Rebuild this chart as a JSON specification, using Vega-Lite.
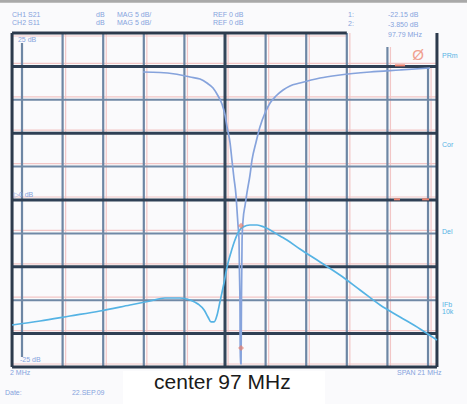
{
  "$schema": "https://vega.github.io/schema/vega-lite/v6.json",
  "width": 467,
  "height": 404,
  "autosize": {"type": "none"},
  "padding": 0,
  "background": "#fafafc",
  "config": {"view": {"stroke": null}},
  "datasets": {
    "grid": [
      {"f": 85.916, "f2": 108.92, "db": 29.75, "db2": 29.75, "k": "bar"},
      {"f": 86.51, "f2": 103.0, "db": 24.55, "db2": 24.55, "k": "pink"},
      {"f": 86.51, "f2": 107.44, "db": 20.45, "db2": 20.45, "k": "pink"},
      {"f": 86.51, "f2": 107.44, "db": 15.45, "db2": 15.45, "k": "pink"},
      {"f": 86.51, "f2": 107.44, "db": 10.45, "db2": 10.45, "k": "pink"},
      {"f": 86.51, "f2": 107.44, "db": 5.45, "db2": 5.45, "k": "pink"},
      {"f": 86.51, "f2": 107.44, "db": 0.45, "db2": 0.45, "k": "pink"},
      {"f": 86.51, "f2": 107.44, "db": -4.55, "db2": -4.55, "k": "pink"},
      {"f": 86.51, "f2": 107.44, "db": -9.55, "db2": -9.55, "k": "pink"},
      {"f": 86.51, "f2": 107.44, "db": -14.55, "db2": -14.55, "k": "pink"},
      {"f": 86.51, "f2": 107.44, "db": -19.55, "db2": -19.55, "k": "pink"},
      {"f": 86.51, "f2": 107.44, "db": -24.55, "db2": -24.55, "k": "pink"},
      {"f": 89.15, "f2": 89.15, "db": 25, "db2": -25, "k": "pink"},
      {"f": 91.15, "f2": 91.15, "db": 25, "db2": -25, "k": "pink"},
      {"f": 93.15, "f2": 93.15, "db": 25, "db2": -25, "k": "pink"},
      {"f": 95.15, "f2": 95.15, "db": 25, "db2": -25, "k": "pink"},
      {"f": 97.15, "f2": 97.15, "db": 25, "db2": -25, "k": "pink"},
      {"f": 99.15, "f2": 99.15, "db": 25, "db2": -25, "k": "pink"},
      {"f": 101.15, "f2": 101.15, "db": 25, "db2": -25, "k": "pink"},
      {"f": 103.15, "f2": 103.15, "db": 25, "db2": -25, "k": "pink"},
      {"f": 105.15, "f2": 105.15, "db": 22.9, "db2": -25, "k": "pink"},
      {"f": 107.15, "f2": 107.15, "db": 19.9, "db2": -25, "k": "pink"},
      {"f": 87, "f2": 87, "db": 23.5, "db2": -23.5, "k": "vert"},
      {"f": 89, "f2": 89, "db": 25, "db2": -25, "k": "vert"},
      {"f": 91, "f2": 91, "db": 25, "db2": -25, "k": "vert"},
      {"f": 93, "f2": 93, "db": 25, "db2": -25, "k": "vert"},
      {"f": 95, "f2": 95, "db": 25, "db2": -25, "k": "vert"},
      {"f": 99, "f2": 99, "db": 25, "db2": -25, "k": "vert"},
      {"f": 101, "f2": 101, "db": 25, "db2": -25, "k": "vert"},
      {"f": 103, "f2": 103, "db": 25, "db2": -25, "k": "vert"},
      {"f": 105, "f2": 105, "db": 22.9, "db2": -25, "k": "vert"},
      {"f": 107, "f2": 107, "db": 19.9, "db2": -25, "k": "vert"},
      {"f": 86.51, "f2": 107.44, "db": 15, "db2": 15, "k": "thin"},
      {"f": 86.51, "f2": 107.44, "db": 5, "db2": 5, "k": "thin"},
      {"f": 86.51, "f2": 107.44, "db": -5, "db2": -5, "k": "thin"},
      {"f": 86.51, "f2": 107.44, "db": -15, "db2": -15, "k": "thin"},
      {"f": 86.51, "f2": 107.44, "db": 20, "db2": 20, "k": "thick"},
      {"f": 86.51, "f2": 107.44, "db": 10, "db2": 10, "k": "thick"},
      {"f": 86.51, "f2": 107.44, "db": 0, "db2": 0, "k": "thick"},
      {"f": 86.51, "f2": 107.44, "db": -10, "db2": -10, "k": "thick"},
      {"f": 86.51, "f2": 107.44, "db": -20, "db2": -20, "k": "thick"},
      {"f": 97, "f2": 97, "db": 25, "db2": -25, "k": "center"},
      {"f": 86.51, "f2": 103.0, "db": 25, "db2": 25, "k": "frame"},
      {"f": 86.51, "f2": 107.44, "db": -25, "db2": -25, "k": "frame"},
      {"f": 86.51, "f2": 86.51, "db": 25, "db2": -25, "k": "frame"},
      {"f": 107.44, "f2": 107.44, "db": 25, "db2": -25, "k": "frame"},
      {"f": 105.37, "f2": 105.87, "db": 20.15, "db2": 20.15, "k": "red"},
      {"f": 105.32, "f2": 105.62, "db": 0.1, "db2": 0.1, "k": "red"},
      {"f": 106.71, "f2": 107.05, "db": 0.1, "db2": 0.1, "k": "red"}
    ],
    "traces": [
      {"f": 92.96, "db": 19.16, "s": "S21"},
      {"f": 93.8, "db": 19.09, "s": "S21"},
      {"f": 94.54, "db": 18.86, "s": "S21"},
      {"f": 95.28, "db": 18.41, "s": "S21"},
      {"f": 95.77, "db": 18.11, "s": "S21"},
      {"f": 96.11, "db": 17.51, "s": "S21"},
      {"f": 96.41, "db": 16.77, "s": "S21"},
      {"f": 96.66, "db": 15.57, "s": "S21"},
      {"f": 96.85, "db": 14.37, "s": "S21"},
      {"f": 97.0, "db": 12.72, "s": "S21"},
      {"f": 97.1, "db": 10.93, "s": "S21"},
      {"f": 97.25, "db": 8.53, "s": "S21"},
      {"f": 97.34, "db": 5.99, "s": "S21"},
      {"f": 97.44, "db": 3.29, "s": "S21"},
      {"f": 97.54, "db": 0.75, "s": "S21"},
      {"f": 97.59, "db": -1.5, "s": "S21"},
      {"f": 97.64, "db": -3.74, "s": "S21"},
      {"f": 97.69, "db": -5.99, "s": "S21"},
      {"f": 97.71, "db": -10.48, "s": "S21"},
      {"f": 97.74, "db": -16.47, "s": "S21"},
      {"f": 97.75, "db": -24.5, "s": "S21"},
      {"f": 97.79, "db": -24.5, "s": "S21"},
      {"f": 97.81, "db": -14.97, "s": "S21"},
      {"f": 97.84, "db": -5.99, "s": "S21"},
      {"f": 97.89, "db": -2.99, "s": "S21"},
      {"f": 97.99, "db": -0.75, "s": "S21"},
      {"f": 98.08, "db": 1.05, "s": "S21"},
      {"f": 98.23, "db": 3.74, "s": "S21"},
      {"f": 98.33, "db": 5.99, "s": "S21"},
      {"f": 98.53, "db": 8.68, "s": "S21"},
      {"f": 98.72, "db": 10.93, "s": "S21"},
      {"f": 98.97, "db": 13.02, "s": "S21"},
      {"f": 99.22, "db": 14.52, "s": "S21"},
      {"f": 99.51, "db": 15.57, "s": "S21"},
      {"f": 99.86, "db": 16.47, "s": "S21"},
      {"f": 100.2, "db": 17.07, "s": "S21"},
      {"f": 100.69, "db": 17.51, "s": "S21"},
      {"f": 101.68, "db": 18.26, "s": "S21"},
      {"f": 102.66, "db": 18.71, "s": "S21"},
      {"f": 104.14, "db": 19.16, "s": "S21"},
      {"f": 105.62, "db": 19.46, "s": "S21"},
      {"f": 107.1, "db": 19.76, "s": "S21"},
      {"f": 86.51, "db": -18.71, "s": "S11"},
      {"f": 87.89, "db": -18.11, "s": "S11"},
      {"f": 89.36, "db": -17.37, "s": "S11"},
      {"f": 90.84, "db": -16.62, "s": "S11"},
      {"f": 92.32, "db": -15.72, "s": "S11"},
      {"f": 93.31, "db": -15.12, "s": "S11"},
      {"f": 94.04, "db": -14.67, "s": "S11"},
      {"f": 94.78, "db": -14.67, "s": "S11"},
      {"f": 95.28, "db": -14.97, "s": "S11"},
      {"f": 95.67, "db": -15.57, "s": "S11"},
      {"f": 95.97, "db": -16.47, "s": "S11"},
      {"f": 96.16, "db": -17.51, "s": "S11"},
      {"f": 96.31, "db": -18.26, "s": "S11"},
      {"f": 96.46, "db": -18.26, "s": "S11"},
      {"f": 96.61, "db": -17.22, "s": "S11"},
      {"f": 96.75, "db": -15.27, "s": "S11"},
      {"f": 96.95, "db": -12.43, "s": "S11"},
      {"f": 97.1, "db": -10.03, "s": "S11"},
      {"f": 97.3, "db": -7.78, "s": "S11"},
      {"f": 97.49, "db": -5.99, "s": "S11"},
      {"f": 97.69, "db": -4.64, "s": "S11"},
      {"f": 97.89, "db": -4.04, "s": "S11"},
      {"f": 98.23, "db": -3.74, "s": "S11"},
      {"f": 98.58, "db": -3.74, "s": "S11"},
      {"f": 98.92, "db": -4.04, "s": "S11"},
      {"f": 99.22, "db": -4.49, "s": "S11"},
      {"f": 99.71, "db": -5.39, "s": "S11"},
      {"f": 100.05, "db": -5.99, "s": "S11"},
      {"f": 100.69, "db": -7.34, "s": "S11"},
      {"f": 101.68, "db": -9.28, "s": "S11"},
      {"f": 102.66, "db": -11.23, "s": "S11"},
      {"f": 103.65, "db": -13.47, "s": "S11"},
      {"f": 104.64, "db": -15.72, "s": "S11"},
      {"f": 105.62, "db": -17.51, "s": "S11"},
      {"f": 106.61, "db": -19.31, "s": "S11"},
      {"f": 107.44, "db": -20.96, "s": "S11"}
    ],
    "markers": [
      {"f": 97.79, "db": -3.85},
      {"f": 97.79, "db": -22.15}
    ],
    "box": [
      {"f": 91.98, "f2": 101.93, "db": -25.6, "db2": -30.54}
    ],
    "labels": [
      {"f": 86.51, "db": 27.69, "t": "CH1 S21", "g": "gray"},
      {"f": 86.51, "db": 26.5, "t": "CH2 S11", "g": "gray"},
      {"f": 90.65, "db": 27.69, "t": "dB", "g": "gray"},
      {"f": 90.65, "db": 26.5, "t": "dB", "g": "gray"},
      {"f": 91.68, "db": 27.69, "t": "MAG  5 dB/", "g": "gray"},
      {"f": 91.68, "db": 26.5, "t": "MAG  5 dB/", "g": "gray"},
      {"f": 96.41, "db": 27.69, "t": "REF 0 dB", "g": "gray"},
      {"f": 96.41, "db": 26.5, "t": "REF 0 dB", "g": "gray"},
      {"f": 86.8, "db": 23.95, "t": "25 dB", "g": "gray"},
      {"f": 86.6, "db": 0.75, "t": "▷0 dB", "g": "gray"},
      {"f": 86.9, "db": -23.95, "t": "-25 dB", "g": "gray"},
      {"f": 86.41, "db": -25.9, "t": "2 MHz", "g": "gray"},
      {"f": 105.47, "db": -25.9, "t": "SPAN 21 MHz", "g": "gray"},
      {"f": 86.16, "db": -28.89, "t": "Date:", "g": "gray"},
      {"f": 89.46, "db": -28.89, "t": "22.SEP.09", "g": "gray"},
      {"f": 107.69, "db": 21.56, "t": "PRm", "g": "green"},
      {"f": 107.69, "db": 8.23, "t": "Cor", "g": "green"},
      {"f": 107.69, "db": -4.79, "t": "Del", "g": "green"},
      {"f": 107.69, "db": -15.72, "t": "IFb", "g": "green"},
      {"f": 107.69, "db": -16.77, "t": "10k", "g": "green"},
      {"f": 103.06, "db": 27.69, "t": "1:", "g": "red"},
      {"f": 103.06, "db": 26.35, "t": "2:", "g": "red"},
      {"f": 105.03, "db": 27.69, "t": "-22.15 dB", "g": "red"},
      {"f": 105.03, "db": 26.2, "t": "-3.850 dB", "g": "red"},
      {"f": 105.03, "db": 24.7, "t": "97.79 MHz", "g": "red"}
    ],
    "blob": [
      {"f": 106.51, "db": 21.71, "t": "Ø"}
    ],
    "title": [
      {"f": 96.87, "db": -28.29, "t": "center 97 MHz"}
    ]
  },
  "encoding": {
    "x": {"field": "f", "type": "quantitative", "scale": {"domain": [85.916, 108.92], "nice": false, "zero": false}, "axis": null},
    "y": {"field": "db", "type": "quantitative", "scale": {"domain": [-30.54, 29.94], "nice": false, "zero": false}, "axis": null}
  },
  "layer": [
    {"data": {"name": "grid"}, "transform": [{"filter": "datum.k == 'bar'"}], "mark": {"type": "rule", "color": "#a9a9a9", "strokeWidth": 3}, "encoding": {"x2": {"field": "f2"}, "y2": {"field": "db2"}}},
    {"data": {"name": "grid"}, "transform": [{"filter": "datum.k == 'pink'"}], "mark": {"type": "rule", "color": "#f2c6c6", "strokeWidth": 1.2}, "encoding": {"x2": {"field": "f2"}, "y2": {"field": "db2"}}},
    {"data": {"name": "grid"}, "transform": [{"filter": "datum.k == 'vert'"}], "mark": {"type": "rule", "color": "#6d86a4", "strokeWidth": 2.2}, "encoding": {"x2": {"field": "f2"}, "y2": {"field": "db2"}}},
    {"data": {"name": "grid"}, "transform": [{"filter": "datum.k == 'thin'"}], "mark": {"type": "rule", "color": "#7089a6", "strokeWidth": 2}, "encoding": {"x2": {"field": "f2"}, "y2": {"field": "db2"}}},
    {"data": {"name": "grid"}, "transform": [{"filter": "datum.k == 'thick'"}], "mark": {"type": "rule", "color": "#2f4055", "strokeWidth": 3}, "encoding": {"x2": {"field": "f2"}, "y2": {"field": "db2"}}},
    {"data": {"name": "grid"}, "transform": [{"filter": "datum.k == 'center'"}], "mark": {"type": "rule", "color": "#34465a", "strokeWidth": 3}, "encoding": {"x2": {"field": "f2"}, "y2": {"field": "db2"}}},
    {"data": {"name": "grid"}, "transform": [{"filter": "datum.k == 'frame'"}], "mark": {"type": "rule", "color": "#2c3a4c", "strokeWidth": 3}, "encoding": {"x2": {"field": "f2"}, "y2": {"field": "db2"}}},
    {"data": {"name": "grid"}, "transform": [{"filter": "datum.k == 'red'"}], "mark": {"type": "rule", "color": "#e8806e", "strokeWidth": 2}, "encoding": {"x2": {"field": "f2"}, "y2": {"field": "db2"}}},
    {"data": {"name": "traces"}, "mark": {"type": "line", "strokeWidth": 1.7, "interpolate": "monotone"}, "encoding": {"color": {"field": "s", "type": "nominal", "scale": {"domain": ["S21", "S11"], "range": ["#86a3dc", "#55b3e4"]}, "legend": null}}},
    {"data": {"name": "markers"}, "mark": {"type": "point", "shape": "diamond", "filled": true, "size": 35, "color": "#e8806e"}},
    {"data": {"name": "box"}, "mark": {"type": "rect", "color": "#ffffff"}, "encoding": {"x2": {"field": "f2"}, "y2": {"field": "db2"}}},
    {"data": {"name": "labels"}, "mark": {"type": "text", "align": "left", "baseline": "middle", "fontSize": 7, "font": "Liberation Sans"}, "encoding": {"text": {"field": "t"}, "color": {"field": "g", "type": "nominal", "scale": {"domain": ["gray", "green", "red"], "range": ["#a4aaba", "#80c8b8", "#ee9686"]}, "legend": null}}},
    {"data": {"name": "blob"}, "mark": {"type": "text", "align": "center", "baseline": "middle", "fontSize": 15, "color": "#f0a090", "font": "Liberation Sans"}, "encoding": {"text": {"field": "t"}}},
    {"data": {"name": "title"}, "mark": {"type": "text", "align": "center", "baseline": "alphabetic", "fontSize": 21, "color": "#1a1a1a", "font": "Liberation Sans"}, "encoding": {"text": {"field": "t"}}}
  ]
}
